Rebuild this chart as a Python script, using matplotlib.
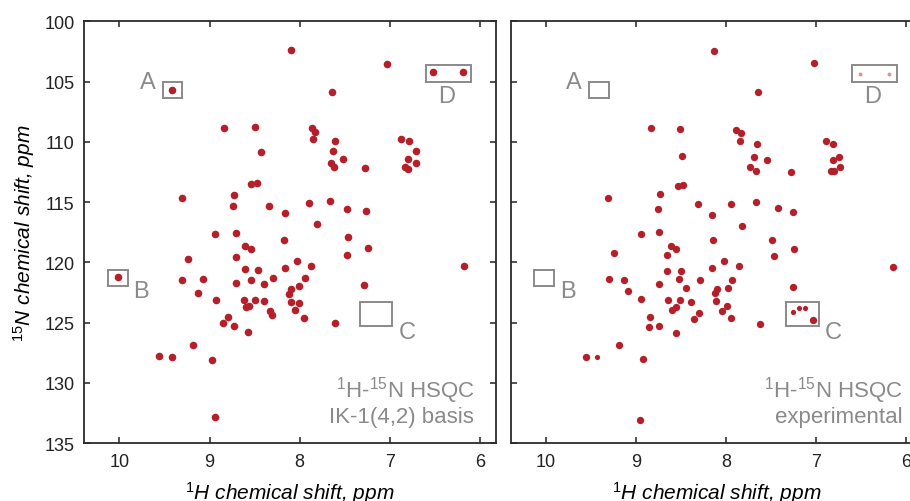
import matplotlib
matplotlib.use('Agg')
import matplotlib.pyplot as plt
from matplotlib.patches import Rectangle

plt.rcParams['font.family'] = ['Liberation Sans', 'DejaVu Sans']
plt.rcParams['mathtext.fontset'] = 'custom'
plt.rcParams['mathtext.rm'] = 'Liberation Sans'
plt.rcParams['mathtext.it'] = 'Liberation Sans:italic'

RED = '#b51f29'
GREY = '#8a8a8a'

# left panel: IK-1(4,2) basis
basis_h = [8.10, 7.03, 6.52, 6.19, 9.42, 7.64, 8.84, 8.50, 7.86, 7.83, 7.85, 7.61,
           8.43, 7.63, 7.52, 7.65, 7.62, 7.27, 6.87, 6.79, 6.71, 6.80, 6.71, 6.83,
           6.80, 8.54, 8.47, 9.31, 8.73, 8.74, 8.34, 8.16, 7.90, 7.66, 7.47, 7.26,
           7.81, 8.94, 8.71, 8.17, 7.46, 8.61, 8.54, 7.24, 9.24, 8.71, 7.47, 8.61,
           8.46, 8.16, 8.03, 7.87, 10.02, 9.31, 9.07, 8.54, 8.29, 8.71, 8.39, 7.94,
           8.01, 8.10, 7.28, 9.13, 8.12, 8.93, 8.62, 8.50, 8.39, 8.10, 8.01, 8.60,
           8.56, 8.33, 8.31, 8.05, 7.95, 8.80, 8.85, 8.73, 8.57, 7.61, 9.18, 9.56,
           9.42, 8.97, 8.94, 6.18]
basis_n = [102.39, 103.5, 104.2, 104.2, 105.67, 105.83, 108.83, 108.78, 108.83, 109.2,
           109.8, 109.9, 110.83, 110.78, 111.39, 111.73, 112.1, 112.2, 109.8, 109.9,
           110.78, 111.39, 111.73, 112.08, 112.25, 113.53, 113.44, 114.67, 114.39, 115.31,
           115.31, 115.92, 115.11, 114.89, 115.58, 115.78, 116.86, 117.61, 117.53, 118.17,
           117.94, 118.67, 118.89, 118.83, 119.72, 119.58, 119.36, 120.58, 120.64, 120.47,
           119.86, 120.28, 121.25, 121.47, 121.36, 121.44, 121.33, 121.72, 121.78, 121.33,
           121.97, 122.2, 121.92, 122.58, 122.67, 123.17, 123.14, 123.11, 123.25, 123.33,
           123.39, 123.7, 123.61, 124.03, 124.36, 123.92, 124.61, 124.5, 125.06, 125.25,
           125.75, 125.03, 126.89, 127.75, 127.89, 128.11, 132.86, 120.31]

# right panel: experimental
exp_h = [8.13, 7.02, 7.64, 8.83, 8.51, 7.89, 7.83, 7.84, 7.66, 8.49, 7.69, 7.54,
         7.73, 7.67, 7.28, 6.89, 6.81, 6.75, 6.81, 6.74, 6.83, 6.80, 8.53, 8.48,
         9.31, 8.73, 8.75, 8.31, 7.94, 7.67, 7.42, 7.26, 8.16, 7.82, 8.94, 8.74,
         8.15, 7.49, 8.61, 8.56, 7.25, 9.24, 8.66, 7.47, 8.16, 8.02, 7.86, 8.65,
         8.50, 6.15, 9.30, 9.13, 8.52, 8.29, 7.93, 9.09, 8.74, 8.44, 8.10, 8.12,
         7.98, 7.26, 8.94, 8.64, 8.51, 8.39, 8.11, 7.99, 8.60, 8.55, 8.30, 8.05,
         8.36, 7.94, 8.84, 8.85, 8.74, 8.56, 7.62, 7.04, 9.19, 9.55, 8.92, 8.95]
exp_n = [102.5, 103.45, 105.9, 108.86, 108.92, 109.06, 109.25, 109.95, 110.14, 111.14,
         111.25, 111.53, 112.11, 112.45, 112.48, 109.95, 110.17, 111.25, 111.53, 112.11,
         112.45, 112.45, 113.7, 113.59, 114.64, 114.36, 115.58, 115.2, 115.14, 115.03,
         115.53, 115.86, 116.08, 116.97, 117.61, 117.5, 118.14, 118.14, 118.61, 118.92,
         118.92, 119.25, 119.39, 119.45, 120.47, 119.86, 120.33, 120.72, 120.7, 120.39,
         121.36, 121.45, 121.36, 121.45, 121.47, 122.36, 121.81, 122.14, 122.25, 122.58,
         122.14, 122.03, 123.03, 123.11, 123.17, 123.28, 123.22, 123.61, 123.92, 123.75,
         124.17, 124.03, 124.69, 124.64, 124.56, 125.33, 125.28, 125.86, 125.08, 124.81,
         126.89, 127.86, 128.0, 133.06]
exp_weak_h = [7.26, 7.19, 7.12, 9.43]
exp_weak_n = [124.14, 123.83, 123.83, 127.86]
exp_faint_h = [6.51, 6.19]
exp_faint_n = [104.33, 104.33]

# highlighted regions: (label, h_left, h_right, n_top, n_bottom, label_h, label_n)
regions = [
    ('A', 9.52, 9.30, 105.0, 106.4, 9.69, 105.05),
    ('B', 10.13, 9.91, 120.6, 121.95, 9.76, 122.4),
    ('C', 7.33, 6.97, 123.3, 125.3, 6.81, 125.8),
    ('D', 6.60, 6.10, 103.6, 105.0, 6.37, 106.2),
]


def figure_design(ax):
    ax.set_xlim(10.39, 5.82)
    ax.set_ylim(135, 100)
    ax.set_xticks([10, 9, 8, 7, 6])
    ax.set_yticks([100, 105, 110, 115, 120, 125, 130, 135])
    ax.tick_params(direction='in', length=4.5, width=1.1, top=True, right=True,
                   labelsize=13, colors='#222222', pad=7)
    for s in ax.spines.values():
        s.set_color('#2b2b2b')
        s.set_linewidth(1.3)
    ax.set_xlabel('$^{1}$H chemical shift, ppm', fontsize=15, style='italic',
                  labelpad=7)
    for lab, h0, h1, n0, n1, lh, ln in regions:
        ax.add_patch(Rectangle((h1, n0), h0 - h1, n1 - n0, fill=False,
                               edgecolor=GREY, linewidth=1.4, zorder=2))
        ax.text(lh, ln, lab, color=GREY, fontsize=17, ha='center', va='center')


fig = plt.figure(figsize=(9.1, 5.02), dpi=100)
ax1 = fig.add_axes([0.0926, 0.1155, 0.4525, 0.840])
ax2 = fig.add_axes([0.5612, 0.1155, 0.4525, 0.840])

figure_design(ax1)
figure_design(ax2)

ax1.scatter(basis_h, basis_n, s=30, color=RED, linewidths=0, zorder=3)
ax1.set_ylabel('$^{15}$N chemical shift, ppm', fontsize=15, style='italic',
               labelpad=5)
ax1.text(0.947, 0.1115, '$^{1}$H-$^{15}$N HSQC', transform=ax1.transAxes,
         ha='right', va='baseline', fontsize=16, color=GREY)
ax1.text(0.947, 0.050, 'IK-1(4,2) basis', transform=ax1.transAxes,
         ha='right', va='baseline', fontsize=16, color=GREY)

ax2.scatter(exp_h, exp_n, s=28, color=RED, linewidths=0, zorder=3)
ax2.scatter(exp_weak_h, exp_weak_n, s=14, color=RED, linewidths=0, zorder=3)
ax2.scatter(exp_faint_h, exp_faint_n, s=8, color='#d9959a', linewidths=0, zorder=3)
ax2.tick_params(labelleft=False)
ax2.text(0.952, 0.1115, '$^{1}$H-$^{15}$N HSQC', transform=ax2.transAxes,
         ha='right', va='baseline', fontsize=16, color=GREY)
ax2.text(0.952, 0.050, 'experimental', transform=ax2.transAxes,
         ha='right', va='baseline', fontsize=16, color=GREY)

fig.savefig('out.png', dpi=100)
